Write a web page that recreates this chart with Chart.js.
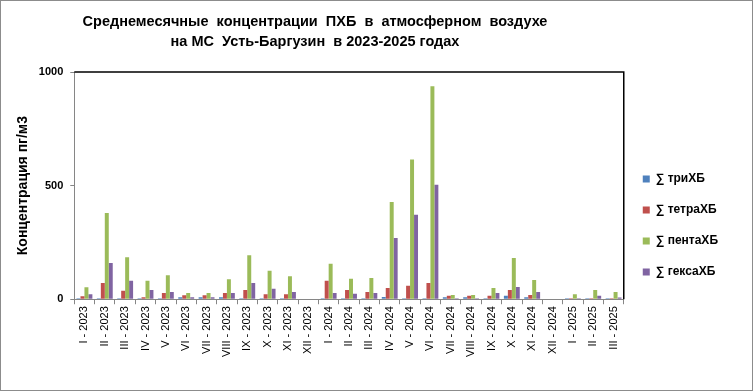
<!DOCTYPE html>
<html>
<head>
<meta charset="utf-8">
<script src="https://cdn.jsdelivr.net/npm/chart.js@4"></script>
<style>
  html, body { margin: 0; padding: 0; background: #fff; }
  #wrap { position: relative; width: 753px; height: 391px; box-sizing: border-box; border: 1px solid #8c8c8c; }
  #chart { position: absolute; left: 0; top: 0; }
  .ttl { position: absolute; left: 0; width: 628px; text-align: center; white-space: pre;
         font: bold 14.5px "Liberation Sans", Arial, sans-serif; color: #000; }
</style>
</head>
<body>
<div id="wrap">
  <canvas id="chart" width="751" height="389"></canvas>
  <div class="ttl" style="top:12px">Среднемесячные  концентрации  ПХБ  в  атмосферном  воздухе</div>
  <div class="ttl" style="top:32px">на МС  Усть-Баргузин  в 2023-2025 годах</div>
</div>
<script>
// ── Данные ────────────────────────────────────────────────────────────────────
const months = ["I","II","III","IV","V","VI","VII","VIII","IX","X","XI","XII",
                "I","II","III","IV","V","VI","VII","VIII","IX","X","XI","XII",
                "I","II","III"];
const years  = ["2023","2023","2023","2023","2023","2023","2023","2023","2023","2023","2023","2023",
                "2024","2024","2024","2024","2024","2024","2024","2024","2024","2024","2024","2024",
                "2025","2025","2025"];
const labels = months.map((m, i) => `${m} - ${years[i]}`);

const triXB   = [4, 4, 4, 4, 4, 9, 9, 9, 4, 4, 4, 0, 4, 4, 4, 10, 4, 4, 9, 9, 4, 15, 9, 0, 4, 4, 4];
const tetraXB = [13, 72, 37, 9, 28, 18, 18, 28, 41, 22, 22, 0, 81, 41, 32, 50, 59, 72, 15, 15, 15, 41, 19, 0, 4, 4, 4];
const pentaXB = [53, 379, 185, 81, 106, 28, 28, 88, 194, 125, 101, 0, 156, 90, 94, 428, 615, 937, 19, 19, 50, 182, 85, 0, 22, 41, 32];
const geksaXB = [22, 160, 81, 41, 32, 9, 9, 28, 72, 46, 32, 0, 28, 24, 28, 269, 372, 504, 4, 4, 28, 54, 32, 0, 4, 15, 8];

const yTicks = [0, 500, 1000];

const FONT = "'Liberation Sans', Arial, sans-serif";

// ── Рамка области построения (верх и правая сторона) ──────────────────────────
const plotFrame = {
  id: "plotFrame",
  afterDatasetsDraw(chart) {
    const { ctx, chartArea: a } = chart;
    ctx.save();
    ctx.strokeStyle = "#000";
    ctx.lineWidth = 1.5;
    ctx.beginPath();
    ctx.moveTo(a.left, a.top);
    ctx.lineTo(a.right, a.top);
    ctx.lineTo(a.right, a.bottom);
    ctx.stroke();
    ctx.restore();
  }
};

const ds = (label, data, color) => ({
  label, data,
  backgroundColor: color,
  borderWidth: 0,
  categoryPercentage: 0.78,
  barPercentage: 1.0
});

new Chart(document.getElementById("chart"), {
  type: "bar",
  data: {
    labels,
    datasets: [
      ds("∑ триХБ",   triXB,   "#4F81BD"),
      ds("∑ тетраХБ", tetraXB, "#C0504D"),
      ds("∑ пентаХБ", pentaXB, "#9BBB59"),
      ds("∑ гексаХБ", geksaXB, "#8064A2")
    ]
  },
  options: {
    responsive: false,
    animation: false,
    layout: { padding: { top: 71, right: 24, bottom: 31, left: 5 } },
    plugins: {
      legend: {
        position: "right",
        title: { display: true, text: "", font: { size: 10 }, padding: { top: 8, bottom: 0 } },
        labels: {
          boxWidth: 7, boxHeight: 7, padding: 19,
          color: "#000",
          font: { family: FONT, size: 12, weight: "bold" }
        }
      },
      tooltip: { enabled: false }
    },
    scales: {
      x: {
        grid: { drawOnChartArea: false, drawTicks: true, tickLength: 5, color: "#868686", offset: true },
        border: { color: "#868686" },
        ticks: {
          autoSkip: false, minRotation: 90, maxRotation: 90, padding: 2,
          color: "#000", font: { family: FONT, size: 11 }
        }
      },
      y: {
        min: 0, max: 1000,
        afterBuildTicks: (s) => { s.ticks = yTicks.map(v => ({ value: v })); },
        grid: { drawOnChartArea: false, tickLength: 4, color: "#868686" },
        border: { color: "#868686" },
        ticks: {
          padding: 7, color: "#000", font: { family: FONT, size: 11, weight: "bold" },
          callback: (v) => String(v)
        },
        title: {
          display: true, text: "Концентрация пг/м3", color: "#000",
          padding: { top: 9, bottom: 0 },
          font: { family: FONT, size: 14, weight: "bold" }
        }
      }
    }
  },
  plugins: [plotFrame]
});
</script>
</body>
</html>
